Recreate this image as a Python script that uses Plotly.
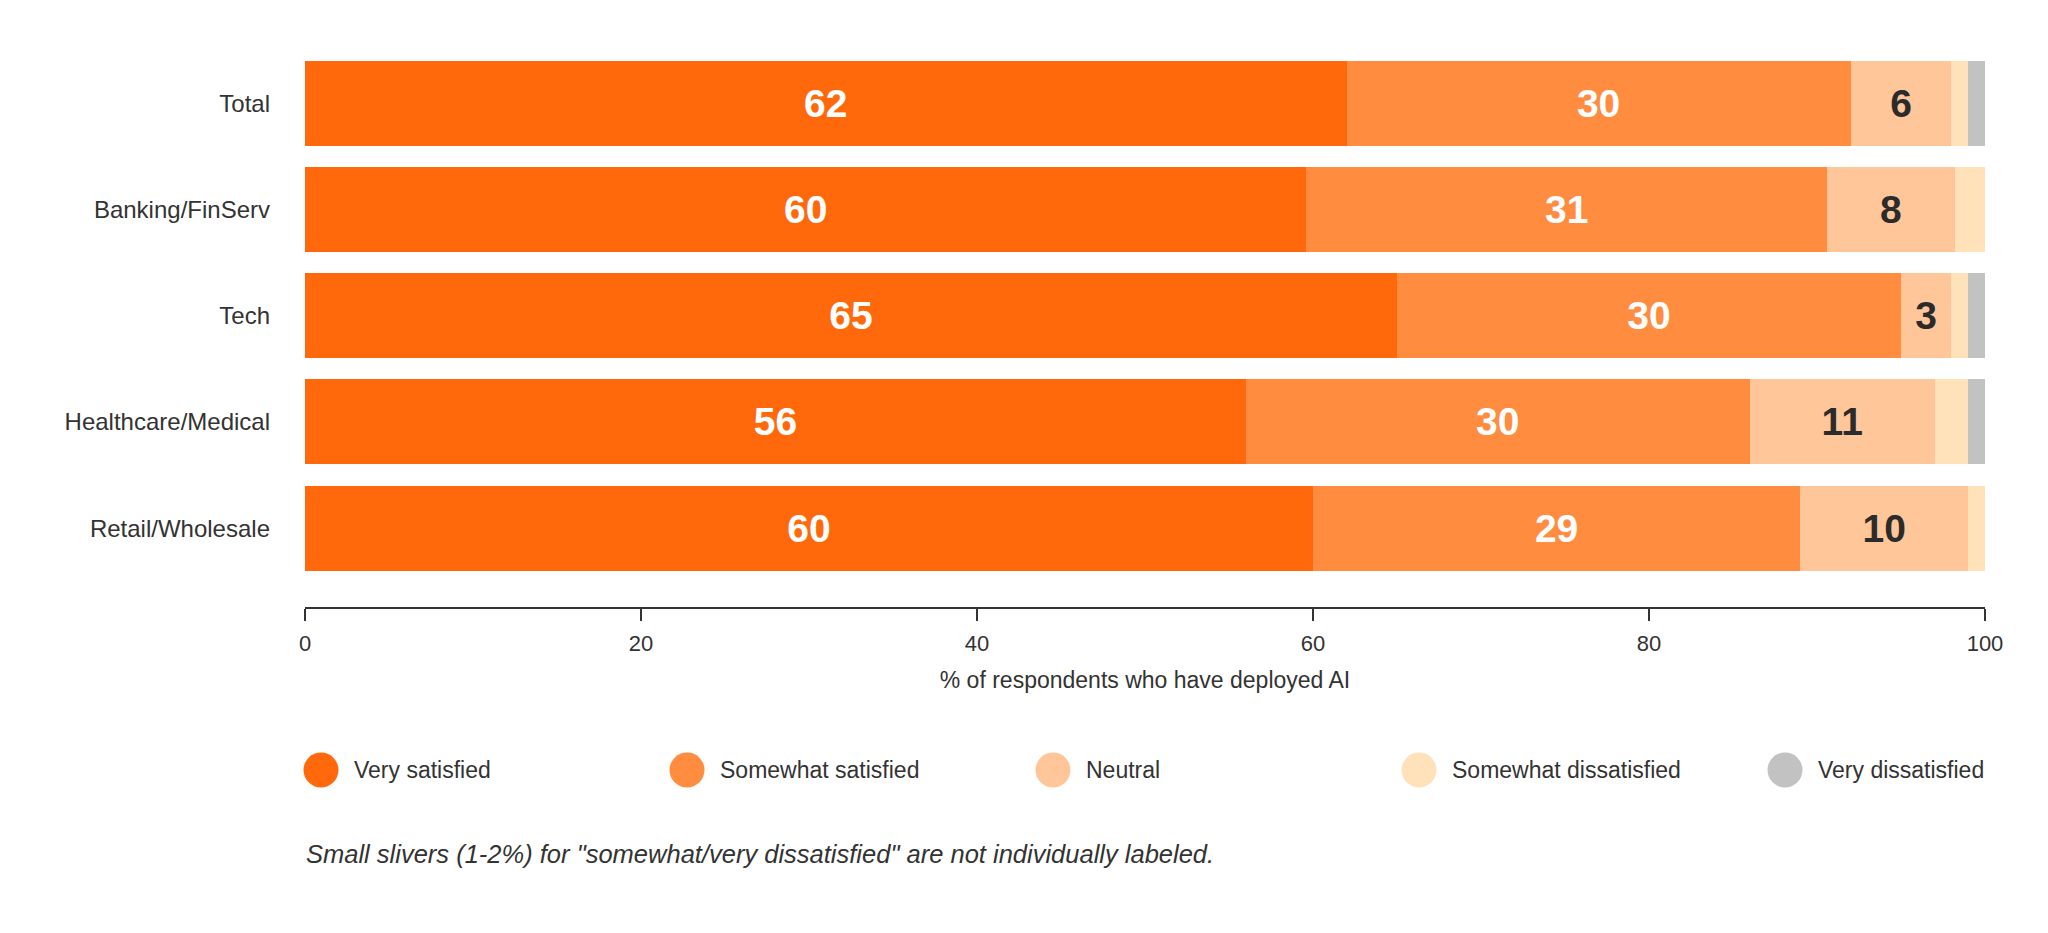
import plotly.graph_objs as go

# Satisfaction with deployed AI, by industry
industries = ["Total", "Banking/FinServ", "Tech", "Healthcare/Medical", "Retail/Wholesale"]
responses = ["Very satisfied", "Somewhat satisfied", "Neutral",
             "Somewhat dissatisfied", "Very dissatisfied"]

very_satisfied = [62, 59.6, 65, 56, 60]
somewhat_satisfied = [30, 31, 30, 30, 29]
neutral = [6, 7.6, 3, 11, 10]
somewhat_dissatisfied = [1, 1.8, 1, 2, 1]
very_dissatisfied = [1, 0, 1, 1, 0]

series = [very_satisfied, somewhat_satisfied, neutral,
          somewhat_dissatisfied, very_dissatisfied]
colors = ["#FF690B", "#FF8C3F", "#FEC699", "#FFE2BA", "#C2C2C2"]
text_colors = ["#FFFFFF", "#FFFFFF", "#2B2B2B", None, None]

FONT = "Liberation Sans, Arial, sans-serif"
TXT = "#333333"

traces = []
for i in range(len(responses)):
    labeled = text_colors[i] is not None
    traces.append(go.Bar(
        y=industries, x=series[i], name=responses[i], orientation="h",
        marker={"color": colors[i], "line": {"width": 0}},
        texttemplate="%{x:.0f}" if labeled else None,
        textposition="inside" if labeled else "none",
        insidetextanchor="middle", textangle=0, constraintext="none",
        textfont={"family": FONT, "size": 39, "weight": "bold",
                  "color": text_colors[i] or "#000"},
        showlegend=False, hoverinfo="x+name"))

# the page body has an 8px margin, so the figure is drawn 8px in from the corner
OFF = 8
W, H = 2048 - OFF, 933 - OFF
L, T = 305 - OFF, 50 - OFF
pw, ph = 1680, 557
R, B = W - L - pw, H - T - ph

# helpers: page pixel -> paper coordinate
def px_x(x):
    return (x - OFF - L) / pw

def px_y(y):
    return (T + ph - (y - OFF)) / ph

# legend built by hand so the swatches can be large circles
shapes, annotations = [], []
for i, name in enumerate(responses):
    cx = 321 + i * 366
    shapes.append(dict(type="circle", xref="paper", yref="paper",
                       xsizemode="pixel", ysizemode="pixel",
                       xanchor=px_x(cx), yanchor=px_y(770),
                       x0=-17.5, x1=17.5, y0=-17.5, y1=17.5,
                       fillcolor=colors[i], line={"width": 0}))
    annotations.append(dict(x=px_x(cx + 31), y=px_y(770), xref="paper", yref="paper",
                            text=name, showarrow=False, xanchor="left", yanchor="middle",
                            font={"family": FONT, "size": 23, "color": TXT}))

annotations.append(dict(x=px_x(304), y=px_y(854), xref="paper", yref="paper",
                        text='Small slivers (1-2%) for "somewhat/very dissatisfied" are not individually labeled.',
                        showarrow=False, xanchor="left", yanchor="middle",
                        font={"family": FONT, "size": 25.5, "color": TXT, "style": "italic"}))

layout = go.Layout(
    width=W, height=H, barmode="stack", bargap=0.2,
    margin={"l": L, "r": R, "t": T, "b": B},
    paper_bgcolor="white", plot_bgcolor="white",
    font={"family": FONT, "size": 23, "color": TXT},
    xaxis={"range": [0, 100], "tickvals": [0, 20, 40, 60, 80, 100],
           "showgrid": False, "zeroline": False,
           "showline": True, "linecolor": "#333333", "linewidth": 2,
           "ticks": "outside", "ticklen": 12, "tickwidth": 1.5, "tickcolor": "#333333",
           "ticklabelstandoff": 4,
           "tickfont": {"size": 22, "color": TXT},
           "title": {"text": "% of respondents who have deployed AI",
                     "font": {"size": 23, "color": TXT}, "standoff": 16}},
    yaxis={"type": "category", "categoryorder": "array", "categoryarray": industries,
           "range": [4.742, -0.5], "showgrid": False, "zeroline": False,
           "showline": False, "ticks": "", "ticklabelstandoff": 34,
           "tickfont": {"size": 24, "color": TXT}},
    shapes=shapes, annotations=annotations, showlegend=False)

fig = go.Figure(data=traces, layout=layout)
fig.write_html("out.html")
